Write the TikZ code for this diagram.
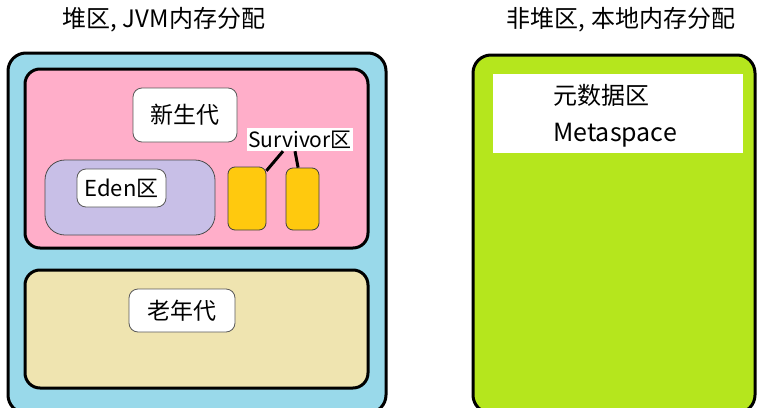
\documentclass[tikz,border=0pt]{standalone}
\usepackage{fontspec}
\setmainfont{Noto Sans CJK SC}
\usetikzlibrary{calc}

\definecolor{heapblue}{RGB}{153,217,234}
\definecolor{youngpink}{RGB}{255,174,201}
\definecolor{edenlav}{RGB}{200,191,231}
\definecolor{survorange}{RGB}{255,201,14}
\definecolor{oldbeige}{RGB}{239,228,176}
\definecolor{metagreen}{RGB}{181,230,29}

\begin{document}
\begin{tikzpicture}[x=1pt,y=-1pt,
  region/.style={draw=black,line width=3pt,rounded corners=18pt},
  tag/.style={draw=black!65,fill=white,line width=0.8pt,rounded corners=9pt,inner sep=0pt},
  surv/.style={draw=black!75,fill=survorange,line width=0.8pt,rounded corners=7pt,inner sep=0pt}]
\useasboundingbox (0,0) rectangle (763,407);
\clip (0,0) rectangle (763,407);

\coordinate (H1) at (8,53);
\coordinate (H2) at (386,413);
\coordinate (Y1) at (25,69);
\coordinate (Y2) at (368,248);
\coordinate (O1) at (25,270);
\coordinate (O2) at (368,388);
\coordinate (E1) at (45,160);
\coordinate (E2) at (215,235);
\coordinate (N1) at (473,55);
\coordinate (N2) at (755,413);

\node[font=\fontsize{24}{28}\selectfont] (heaptitle) at (164,20) {堆区, JVM内存分配};
\node[font=\fontsize{24}{28}\selectfont] (nonheaptitle) at (621,20) {非堆区, 本地内存分配};

% heap
\filldraw[region,fill=heapblue] (H1) rectangle (H2);
\filldraw[region,fill=youngpink,rounded corners=15pt] (Y1) rectangle (Y2);
\filldraw[region,fill=oldbeige,rounded corners=15pt] (O1) rectangle (O2);
\filldraw[draw=black!70,line width=0.8pt,fill=edenlav,rounded corners=20pt] (E1) rectangle (E2);

\node[tag,minimum width=104pt,minimum height=54pt,font=\fontsize{23}{27}\selectfont] (young) at (185,115) {新生代};
\node[tag,minimum width=89pt,minimum height=38pt,font=\fontsize{22}{26}\selectfont] (eden) at (121.5,188) {Eden区};
\node[tag,minimum width=106pt,minimum height=43pt,font=\fontsize{23}{27}\selectfont] (old) at (182,310.5) {老年代};

\node[fill=white,inner sep=0pt,minimum width=106pt,minimum height=23pt,font=\fontsize{21}{25}\selectfont] (survlbl) at (300,139.5) {Survivor区};
\node[surv,minimum width=38pt,minimum height=63pt] (s1) at (247,198.5) {};
\node[surv,minimum width=33pt,minimum height=62pt] (s2) at (302.5,199) {};

\draw[line width=3pt] ($(survlbl.south)+(-17,0)$) -- (s1.55);
\draw[line width=3pt] ($(survlbl.south)+(-5,0)$) -- (s2.98);

% non-heap
\filldraw[region,fill=metagreen] (N1) rectangle (N2);
\fill[white] (493,74) rectangle (743,153);
\node[anchor=west,inner sep=0pt,font=\fontsize{24}{28}\selectfont] (metacn) at (553,95) {元数据区};
\node[anchor=west,inner sep=0pt,font=\fontsize{25}{29}\selectfont] (metaen) at (553,135) {Metaspace};

\end{tikzpicture}
\end{document}
